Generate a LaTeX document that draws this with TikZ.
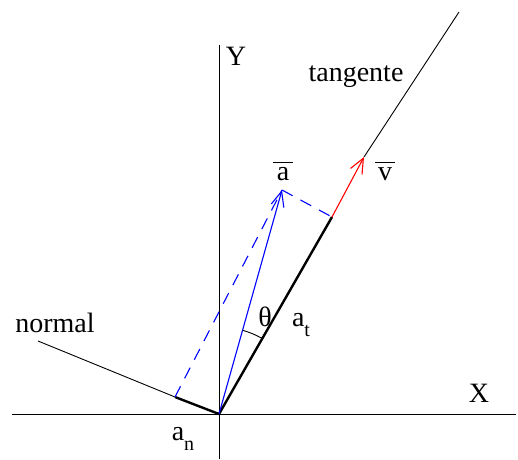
\documentclass[tikz,border=0pt]{standalone}
\usepackage{fontspec}
\setmainfont{Liberation Serif}
\usetikzlibrary{arrows.meta}
\newcommand\mysub[1]{\raisebox{-0.35em}{\fontsize{20}{20}\selectfont #1}}
\newcommand\mybar[1]{\vbox{\offinterlineskip\hbox to 0.72em{\hss\rule{0.72em}{1.2pt}\hss}\kern4pt\hbox to 0.72em{\hss #1\hss}}}
\begin{document}
\begin{tikzpicture}[x=1pt,y=1pt,
  lbl/.style={inner sep=0pt,font=\fontsize{28}{32}\rmfamily\selectfont},
  thinline/.style={line width=0.9pt,black},
  thickline/.style={line width=2.4pt,black},
  vecarrow/.style={line width=1.1pt,-{Straight Barb[length=15pt,width=13pt,line width=1.1pt]}},
  dashblue/.style={blue,line width=1.1pt,dash pattern=on 12pt off 9pt}]
\useasboundingbox (0,0) rectangle (518,459);
% points
\coordinate (O) at (219,45);
\coordinate (xl) at (12,45);
\coordinate (xr) at (516,45);
\coordinate (yb) at (219,0);
\coordinate (yt) at (219,414);
\coordinate (A) at (332,242);
\coordinate (V) at (364,302);
\coordinate (T) at (459,447);
\coordinate (B) at (282,269);
\coordinate (N) at (175,62);
\coordinate (L) at (38,118);
% axes
\draw[thinline] (xl) -- (xr);
\draw[thinline] (yb) -- (yt);
% normal
\draw[thinline] (L) -- (N);
\draw[thickline] (N) -- (O);
% tangent
\draw[thickline] (O) -- (A);
\draw[thinline] (V) -- (T);
\draw[red,vecarrow] (A) -- (V);
% acceleration
\draw[dashblue] (N) -- (B);
\draw[dashblue] (B) -- (A);
\draw[blue,vecarrow] (O) -- (B);
% angle
\draw[thinline] ([shift={(74.3:87)}]O) arc[start angle=74.3,end angle=60.2,radius=87];
% labels
\node[lbl] (ly) at (236,403) {Y};
\node[lbl] (lx) at (479,66) {X};
\node[lbl] (ltan) at (356,382) {tangente};
\node[lbl] (lnor) at (55,136) {normal};
\node[lbl] (lan) at (183,20) {a\mysub{n}};
\node[lbl,anchor=base] (la) at (283,279) {\mybar{a}};
\node[lbl,anchor=base] (lv) at (385,279) {\mybar{v}};
\node[lbl] (lth) at (265,142) {θ};
\node[lbl] (lat) at (301,134) {a\mysub{t}};
\end{tikzpicture}
\end{document}
